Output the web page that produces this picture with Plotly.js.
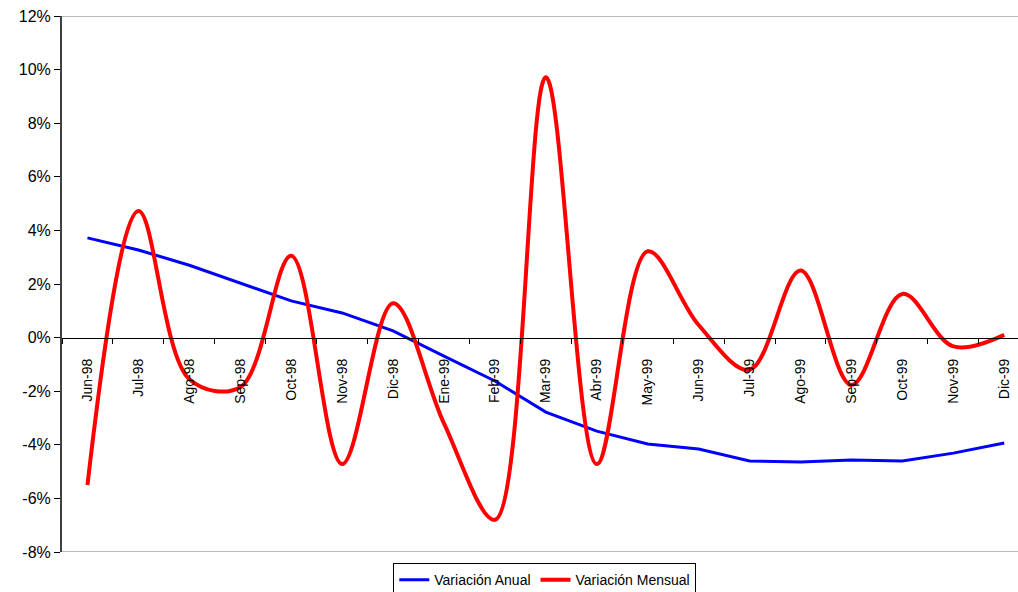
<!DOCTYPE html>
<html>
<head>
<meta charset="utf-8">
<script src="https://cdn.plot.ly/plotly-3.0.1.min.js"></script>
<style>html,body{margin:0;padding:0;background:#fff;overflow:hidden}#chart{width:1018px;height:592px}</style>
</head>
<body>
<div id="chart"></div>
<script>
var categories = ["Jun-98","Jul-98","Ago-98","Sep-98","Oct-98","Nov-98","Dic-98","Ene-99","Feb-99","Mar-99","Abr-99","May-99","Jun-99","Jul-99","Ago-99","Sep-99","Oct-99","Nov-99","Dic-99"];
var variacionAnual = [3.72,3.27,2.70,2.04,1.37,0.92,0.25,-0.69,-1.62,-2.78,-3.49,-3.97,-4.16,-4.60,-4.64,-4.57,-4.60,-4.31,-3.93];
var variacionMensual = [-5.50,4.72,-1.55,-1.85,3.05,-4.72,1.28,-3.20,-6.80,9.71,-4.72,3.22,0.47,-1.20,2.50,-1.77,1.63,-0.33,0.10];
var yTickVals = [-8,-6,-4,-2,0,2,4,6,8,10,12];
var yTickText = ["-8%","-6%","-4%","-2%","0%","2%","4%","6%","8%","10%","12%"];

var font = "Arial, 'Liberation Sans', sans-serif";
var traces = [
  {x: categories, y: variacionAnual, type: "scatter", mode: "lines", name: "Variación Anual",
   line: {color: "#0000ff", width: 3}},
  {x: categories, y: variacionMensual, type: "scatter", mode: "lines", name: "Variación Mensual",
   line: {color: "#ff0000", width: 4, shape: "spline", smoothing: 1}}
];
var layout = {
  width: 1018, height: 592,
  margin: {l: 62, r: 0, t: 16, b: 40, autoexpand: false},
  paper_bgcolor: "#fff", plot_bgcolor: "#fff",
  font: {family: font, color: "#000"},
  showlegend: true,
  legend: {orientation: "h", x: 0.505, xanchor: "center", y: -0.021, yanchor: "top",
           bordercolor: "#000", borderwidth: 1, font: {size: 14, family: font},
           itemwidth: 30, tracegroupgap: 0},
  xaxis: {type: "category", range: [-0.5, 18.27], anchor: "free", position: 0.4,
          showline: true, linecolor: "#000", linewidth: 1.5, showgrid: false, zeroline: false,
          ticks: "outside", tickson: "boundaries", ticklen: 5, tickcolor: "#000",
          tickangle: -90, tickfont: {size: 14, family: font}, ticklabelstandoff: 14},
  yaxis: {range: [-8, 12], tickvals: yTickVals, ticktext: yTickText,
          showline: true, linecolor: "#404040", linewidth: 2, showgrid: false, zeroline: false,
          ticks: "outside", ticklen: 6, tickcolor: "#000", tickfont: {size: 16, family: font}},
  shapes: [
    {type: "line", xref: "paper", yref: "y", x0: 0, x1: 1, y0: 12, y1: 12, line: {color: "#a0a0a0", width: 1.5}},
    {type: "line", xref: "paper", yref: "y", x0: 0, x1: 1, y0: -8, y1: -8, line: {color: "#a0a0a0", width: 1.5}}
  ]
};
Plotly.newPlot("chart", traces, layout, {displayModeBar: false, staticPlot: true});
</script>
</body>
</html>
